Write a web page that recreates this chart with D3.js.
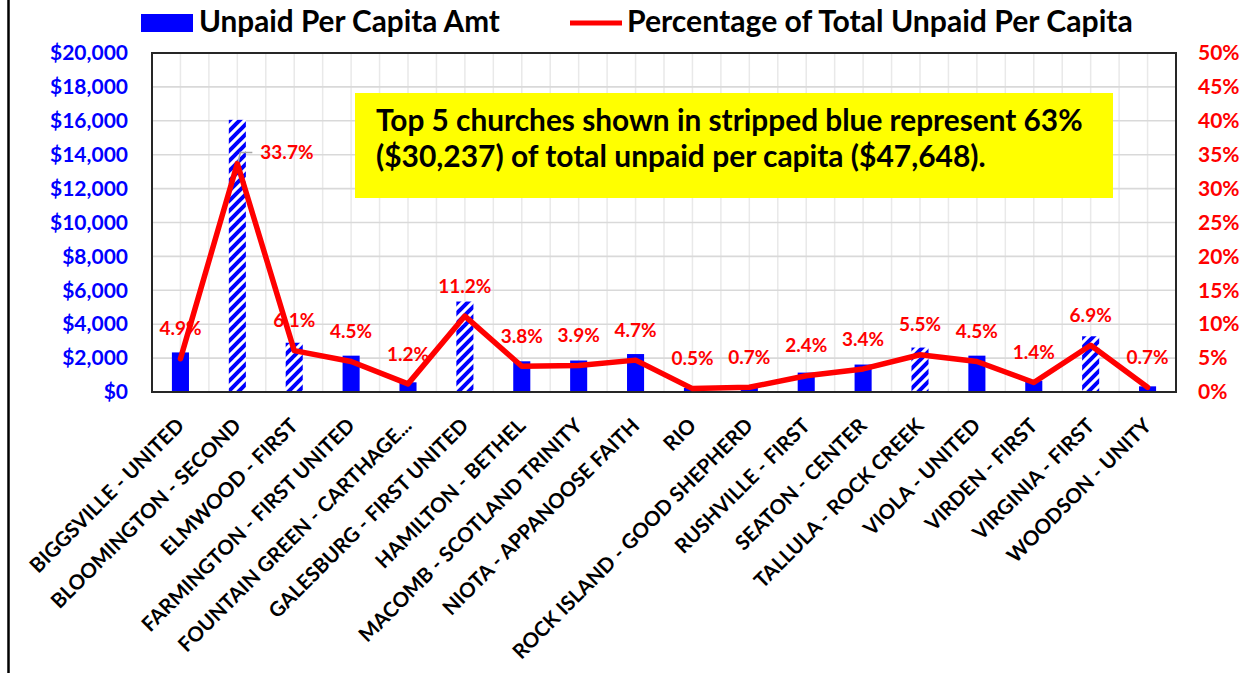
<!DOCTYPE html>
<html>
<head>
<meta charset="utf-8">
<script src="https://cdn.jsdelivr.net/npm/d3@7"></script>
<style>
  body { margin: 0; background: #fff; }
  svg { display: block; font-family: Lato, "Open Sans", sans-serif; font-weight: bold; }
</style>
</head>
<body>
<svg id="chart" width="1252" height="673"></svg>
<script>
// data
const churches = [
  "BIGGSVILLE - UNITED", "BLOOMINGTON - SECOND", "ELMWOOD - FIRST", "FARMINGTON - FIRST UNITED",
  "FOUNTAIN GREEN - CARTHAGE...", "GALESBURG - FIRST UNITED", "HAMILTON - BETHEL", "MACOMB - SCOTLAND TRINITY",
  "NIOTA - APPANOOSE FAITH", "RIO", "ROCK ISLAND - GOOD SHEPHERD", "RUSHVILLE - FIRST",
  "SEATON - CENTER", "TALLULA - ROCK CREEK", "VIOLA - UNITED", "VIRDEN - FIRST",
  "VIRGINIA - FIRST", "WOODSON - UNITY"
];
const unpaidAmt = [2335, 16057, 2906, 2144, 572, 5337, 1811, 1858, 2239, 238, 334, 1144, 1620, 2621, 2144, 667, 3288, 334];
const pctOfTotal = [0.049, 0.337, 0.061, 0.045, 0.012, 0.112, 0.038, 0.039, 0.047, 0.005, 0.007, 0.024, 0.034, 0.055, 0.045, 0.014, 0.069, 0.007];
const topFive = ["BLOOMINGTON - SECOND", "GALESBURG - FIRST UNITED", "VIRGINIA - FIRST", "ELMWOOD - FIRST", "TALLULA - ROCK CREEK"];
const amtTicks = [0, 2000, 4000, 6000, 8000, 10000, 12000, 14000, 16000, 18000, 20000];
const pctTicks = [0, 0.05, 0.10, 0.15, 0.20, 0.25, 0.30, 0.35, 0.40, 0.45, 0.50];
const seriesNames = ["Unpaid Per Capita Amt", "Percentage of Total Unpaid Per Capita"];
const noteLines = [
  "Top 5 churches shown in stripped blue represent 63%",
  "($30,237) of total unpaid per capita ($47,648)."
];

const BLUE = "#0000ff", RED = "#ff0000";
const plot = { left: 152, top: 53, right: 1176, bottom: 392 };

const svg = d3.select("#chart");

// shrink/grow a text's font size so it spans the given width
function fitWidth(sel, w) {
  sel.each(function() {
    const fs = parseFloat(d3.select(this).style("font-size"));
    const len = this.getComputedTextLength();
    d3.select(this).style("font-size", (fs * w / len) + "px");
  });
}

// striped pattern for the top five
const defs = svg.append("defs");
const pat = defs.append("pattern")
  .attr("id", "stripes")
  .attr("patternUnits", "userSpaceOnUse")
  .attr("width", 10).attr("height", 10);
pat.append("rect").attr("width", 10).attr("height", 10).attr("fill", "#fff");
pat.append("path")
  .attr("d", "M-3,3 L3,-3 M0,10 L10,0 M7,13 L13,7")
  .attr("stroke", BLUE).attr("stroke-width", 4);

// chart frame (only left edge visible)
svg.append("line")
  .attr("x1", 8.5).attr("x2", 8.5).attr("y1", 0).attr("y2", 673)
  .attr("stroke", "#000").attr("stroke-width", 2.5);

const x = d3.scaleBand()
  .domain(churches)
  .range([plot.left, plot.right])
  .paddingInner(0.7)
  .paddingOuter(0.35);

const y = d3.scaleLinear().domain([0, 20000]).range([plot.bottom, plot.top]);
const y2 = d3.scaleLinear().domain([0, 0.5]).range([plot.bottom, plot.top]);

const step = x.step();
const cx = d => x(d) + x.bandwidth() / 2;

// grid
const grid = svg.append("g");
const vLines = [];
churches.forEach(c => { vLines.push(cx(c) - step / 2, cx(c)); });
grid.selectAll(".vg").data(vLines).enter().append("line")
  .attr("x1", d => d).attr("x2", d => d)
  .attr("y1", plot.top).attr("y2", plot.bottom)
  .attr("stroke", "#e9e9e9").attr("stroke-width", 1.5);
grid.selectAll(".hg").data(amtTicks).enter().append("line")
  .attr("x1", plot.left).attr("x2", plot.right)
  .attr("y1", d => y(d)).attr("y2", d => y(d))
  .attr("stroke", "#d9d9d9").attr("stroke-width", 1.6);

// bars
svg.append("g").selectAll("rect")
  .data(churches).enter().append("rect")
  .attr("x", d => x(d))
  .attr("width", x.bandwidth())
  .attr("y", (d, i) => y(unpaidAmt[i]))
  .attr("height", (d, i) => y(0) - y(unpaidAmt[i]))
  .attr("fill", d => topFive.includes(d) ? "url(#stripes)" : BLUE);

// note box
const note = svg.append("g");
note.append("rect")
  .attr("x", 355).attr("y", 93).attr("width", 758).attr("height", 105)
  .attr("fill", "#ffff00");
note.selectAll("text").data(noteLines).enter().append("text")
  .attr("x", 376)
  .attr("y", (d, i) => 131 + i * 36)
  .style("font-size", "26px")
  .attr("fill", "#000")
  .text(d => d)
  .call(sel => sel.each(function(d, i) { fitWidth(d3.select(this), i === 0 ? 707 : 610); }));

// plot border
svg.append("rect")
  .attr("x", plot.left).attr("y", plot.top)
  .attr("width", plot.right - plot.left).attr("height", plot.bottom - plot.top)
  .attr("fill", "none").attr("stroke", "#262626").attr("stroke-width", 2);

// percentage line
const line = d3.line()
  .x((d, i) => cx(churches[i]))
  .y(d => y2(d));
svg.append("path")
  .datum(pctOfTotal)
  .attr("d", line)
  .attr("fill", "none")
  .attr("stroke", RED)
  .attr("stroke-width", 5.5)
  .attr("stroke-linejoin", "round")
  .attr("stroke-linecap", "round");

// data labels
const maxPct = d3.max(pctOfTotal);
const labels = svg.append("g").attr("fill", RED).style("font-size", "19px");
pctOfTotal.forEach((p, i) => {
  const px = cx(churches[i]), py = y2(p);
  if (p === maxPct) {
    labels.append("path")
      .attr("d", `M${px + 1},${py - 2} L${px + 3},${py - 11} L${px + 15},${py - 11}`)
      .attr("fill", "none").attr("stroke", "#a6a6a6").attr("stroke-width", 1.5);
    labels.append("text")
      .attr("x", px + 23).attr("y", py - 11).attr("dy", "0.35em")
      .text(d3.format(".1%")(p));
  } else {
    labels.append("text")
      .attr("x", px).attr("y", py - 30).attr("dy", "0.35em")
      .attr("text-anchor", "middle")
      .text(d3.format(".1%")(p));
  }
});

// left axis
const yAxis = svg.append("g")
  .attr("transform", `translate(${plot.left},0)`)
  .call(d3.axisLeft(y).tickValues(amtTicks).tickSize(0).tickPadding(24)
    .tickFormat(d => "$" + d3.format(",")(d)));
yAxis.select(".domain").remove();
yAxis.selectAll("text").attr("fill", BLUE).style("font-size", "21px")
  .style("font-family", "Lato, sans-serif").style("font-weight", "bold");

// right axis
const y2Axis = svg.append("g")
  .attr("transform", `translate(${plot.right},0)`)
  .call(d3.axisRight(y2).tickValues(pctTicks).tickSize(0).tickPadding(22)
    .tickFormat(d3.format(".0%")));
y2Axis.select(".domain").remove();
y2Axis.selectAll("text").attr("fill", RED).style("font-size", "21px")
  .style("font-family", "Lato, sans-serif").style("font-weight", "bold");

// category labels
const xAxis = svg.append("g")
  .attr("transform", `translate(0,${plot.bottom})`)
  .call(d3.axisBottom(x).tickSize(0));
xAxis.select(".domain").remove();
xAxis.selectAll(".tick text")
  .attr("y", 0).attr("dy", 0)
  .attr("text-anchor", "end")
  .attr("transform", "translate(5,35) rotate(-45)")
  .attr("fill", "#000")
  .style("font-size", "20.5px")
  .style("font-family", "Lato, sans-serif").style("font-weight", "bold");

// legend
const legend = svg.append("g");
legend.append("rect")
  .attr("x", 141).attr("y", 14).attr("width", 52).attr("height", 18)
  .attr("fill", BLUE);
legend.append("text")
  .attr("x", 199).attr("y", 32)
  .style("font-size", "26px")
  .text(seriesNames[0])
  .call(fitWidth, 301);
legend.append("line")
  .attr("x1", 570).attr("x2", 622).attr("y1", 23).attr("y2", 23)
  .attr("stroke", RED).attr("stroke-width", 5);
legend.append("text")
  .attr("x", 627).attr("y", 32)
  .style("font-size", "26px")
  .text(seriesNames[1])
  .call(fitWidth, 506);
</script>
</body>
</html>
